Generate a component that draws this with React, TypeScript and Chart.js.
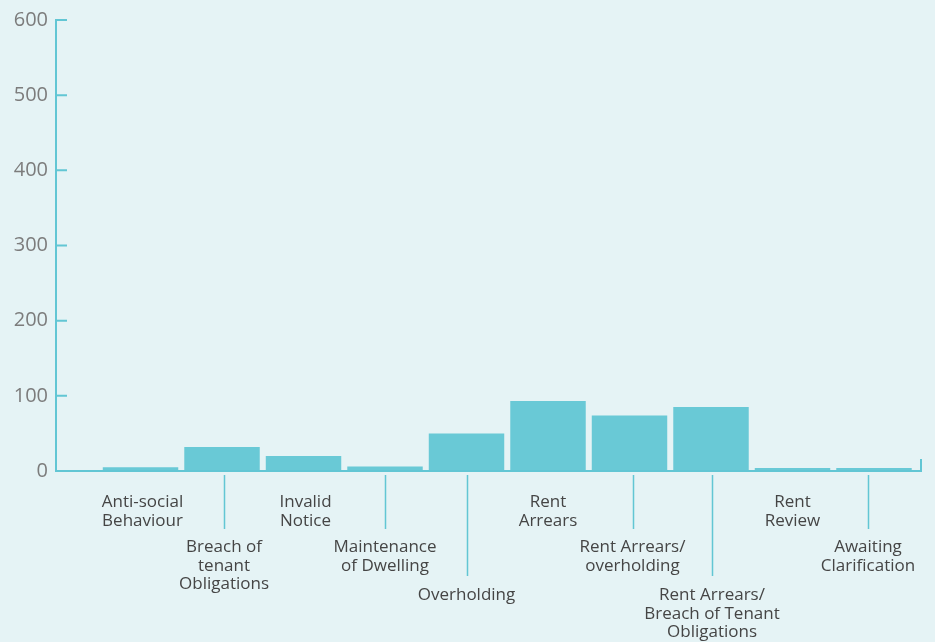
import React, { useEffect, useRef } from 'react';
import { Chart, registerables } from 'chart.js';

Chart.register(...registerables);

// ---- data ----
const categories: string[][] = [
  ['Anti-social', 'Behaviour'],
  ['Breach of', 'tenant', 'Obligations'],
  ['Invalid', 'Notice'],
  ['Maintenance', 'of Dwelling'],
  ['Overholding'],
  ['Rent', 'Arrears'],
  ['Rent Arrears/', 'overholding'],
  ['Rent Arrears/', 'Breach of Tenant', 'Obligations'],
  ['Rent', 'Review'],
  ['Awaiting', 'Clarification'],
];
const counts: number[] = [5, 32, 20, 6, 50, 93, 74, 85, 4, 4];
const labelLevels: number[] = [0, 1, 0, 1, 2, 0, 1, 2, 0, 1];
const yTickValues: number[] = [0, 100, 200, 300, 400, 500, 600];

// ---- style ----
const BG = '#e5f3f5';
const BAR = '#69c9d6';
const AXIS = '#62c6d4';
const YLABEL = '#7c7c7c';
const XLABEL = '#454545';
const LEVEL_BASELINE = [36, 81, 129];
const LEVEL_TICK_END = [0, 58, 105];
const LINE_H = 18.5;
const LABEL_NUDGE = [2, 2, 2, 0, 0, 0, 3, 1, 0, -6];

const decorPlugin = {
  id: 'decor',
  afterDraw(chart: any) {
    const { ctx, chartArea, scales } = chart;
    const xs = scales.x;
    const ys = scales.y;
    const base = ys.getPixelForValue(0);
    ctx.save();
    ctx.strokeStyle = AXIS;
    ctx.lineWidth = 2;
    // x axis line
    ctx.beginPath();
    ctx.moveTo(chartArea.left, base);
    ctx.lineTo(chartArea.right, base);
    // right end tick
    ctx.moveTo(chartArea.right - 1, base);
    ctx.lineTo(chartArea.right - 1, base - 12);
    // y tick marks (inward)
    yTickValues.forEach((v) => {
      const py = ys.getPixelForValue(v);
      ctx.moveTo(chartArea.left, py);
      ctx.lineTo(chartArea.left + 11, py);
    });
    ctx.stroke();

    // category tick lines
    ctx.lineWidth = 1.5;
    ctx.beginPath();
    categories.forEach((_, i) => {
      const lvl = labelLevels[i];
      if (lvl > 0) {
        const px = Math.round(xs.getPixelForValue(i) + LABEL_NUDGE[i]) + 0.5;
        ctx.moveTo(px, base + 4);
        ctx.lineTo(px, base + LEVEL_TICK_END[lvl]);
      }
    });
    ctx.stroke();

    // category labels
    ctx.fillStyle = XLABEL;
    ctx.font = '17px "Open Sans", sans-serif';
    ctx.textAlign = 'center';
    ctx.textBaseline = 'alphabetic';
    categories.forEach((lines, i) => {
      const px = xs.getPixelForValue(i) + LABEL_NUDGE[i];
      const lvl = labelLevels[i];
      lines.forEach((t, j) => {
        ctx.fillText(t, px, base + LEVEL_BASELINE[lvl] + j * LINE_H);
      });
    });
    ctx.restore();
  },
};

export default function App() {
  const ref = useRef<HTMLCanvasElement | null>(null);
  useEffect(() => {
    if (!ref.current) return;
    const chart = new Chart(ref.current, {
      type: 'bar',
      data: {
        datasets: [
          {
            data: counts.map((v, i) => ({ x: i, y: v })),
            backgroundColor: BAR,
            borderWidth: 0,
            barPercentage: 0.926,
            categoryPercentage: 1,
          },
        ],
      },
      options: {
        animation: false,
        responsive: false,
        devicePixelRatio: 1,
        layout: { padding: { left: 0, top: 18, right: 13, bottom: 171 } },
        plugins: { legend: { display: false }, tooltip: { enabled: false } },
        scales: {
          x: {
            type: 'linear',
            display: false,
            offset: false,
            min: -1.037,
            max: 9.589,
          },
          y: {
            min: 0,
            max: 600,
            afterFit: (s: any) => {
              s.width = 56;
            },
            afterBuildTicks: (s: any) => {
              s.ticks = yTickValues.map((v) => ({ value: v }));
            },
            grid: { display: false, drawTicks: false },
            border: { display: true, color: AXIS, width: 2 },
            ticks: {
              color: YLABEL,
              padding: 8,
              font: { family: '"Open Sans", sans-serif', size: 20 },
            },
          },
        },
      },
      plugins: [decorPlugin],
    } as any);
    return () => chart.destroy();
  }, []);
  return (
    <div style={{ position: 'fixed', left: 0, top: 0, width: 935, height: 642, background: BG }}>
      <canvas ref={ref} width={935} height={642} style={{ display: 'block', width: 935, height: 642 }} />
    </div>
  );
}
